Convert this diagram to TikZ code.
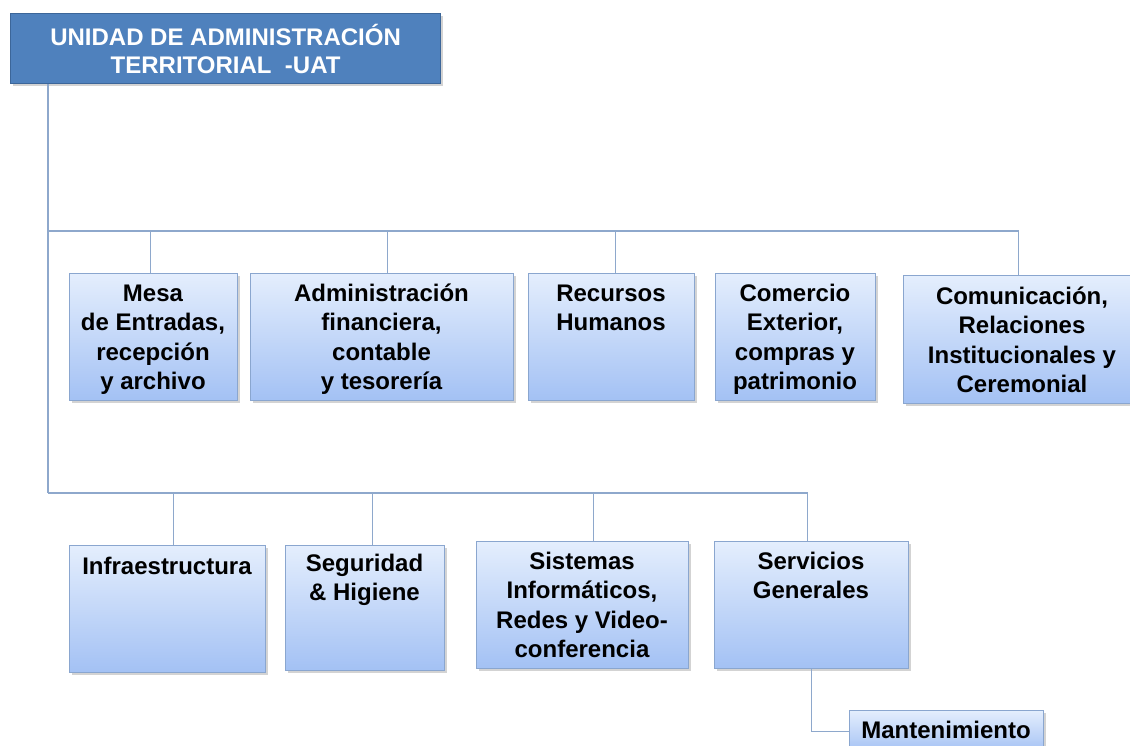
\documentclass[tikz,border=0pt]{standalone}
\usepackage{fontspec}
\setmainfont{Liberation Sans}
\usetikzlibrary{shadows}
\definecolor{linec}{HTML}{8EA8CC}
\definecolor{boxtop}{HTML}{E4EEFD}
\definecolor{boxbot}{HTML}{A3C1F4}
\definecolor{boxdraw}{HTML}{8AA6CF}
\definecolor{titlefill}{HTML}{4F81BD}
\definecolor{titledraw}{HTML}{3C6699}
\begin{document}
\begin{tikzpicture}[x=1pt,y=-1pt,
  orgbox/.style={draw=boxdraw, line width=1.2pt, top color=boxtop, bottom color=boxbot,
    inner sep=0pt, anchor=north west,
    drop shadow={shadow xshift=2pt, shadow yshift=-2pt, opacity=0.35, fill=black!50}},
  orgtext/.style={font=\fontsize{24}{29.5}\selectfont\bfseries, align=center, inner sep=0pt, anchor=base, text=black},
  titlebox/.style={draw=titledraw, line width=1.2pt, fill=titlefill, anchor=north west, inner sep=0pt,
    font=\fontsize{24}{28}\selectfont\bfseries, text=white, align=center,
    drop shadow={shadow xshift=2pt, shadow yshift=-2pt, opacity=0.35, fill=black!50}},
  conn/.style={draw=linec, line width=1.5pt}]
\useasboundingbox (0,0) rectangle (1130,745);

% title
\node[titlebox, minimum width=430, minimum height=70] (uat) at (10,13)
  {UNIDAD DE ADMINISTRACIÓN\\TERRITORIAL\ \ -UAT};

% row 1 boxes (text nodes anchored at the baseline of their last line)
\node[orgbox, minimum width=168, minimum height=127] (mesa) at (69,273) {};
\node[orgtext] (mesa-t) at (153,389.5) {Mesa\\de Entradas,\\recepción\\y archivo};
\node[orgbox, minimum width=263, minimum height=127] (admin) at (250,273) {};
\node[orgtext] (admin-t) at (381.5,389.5) {Administración\\financiera,\\contable\\y tesorería};
\node[orgbox, minimum width=166, minimum height=127] (rrhh) at (528,273) {};
\node[orgtext] (rrhh-t) at (611,330.5) {Recursos\\Humanos};
\node[orgbox, minimum width=160, minimum height=127] (comex) at (715,273) {};
\node[orgtext] (comex-t) at (795,389.5) {Comercio\\Exterior,\\compras y\\patrimonio};
\node[orgbox, minimum width=230, minimum height=128] (comu) at (903,275) {};
\node[orgtext] (comu-t) at (1022,392.5) {Comunicación,\\Relaciones\\Institucionales y\\Ceremonial};

% row 2 boxes
\node[orgbox, minimum width=196, minimum height=127] (infra) at (69,545) {};
\node[orgtext] (infra-t) at (167,574) {Infraestructura};
\node[orgbox, minimum width=159, minimum height=125] (segu) at (285,545) {};
\node[orgtext] (segu-t) at (364.5,600.5) {Seguridad\\\& Higiene};
\node[orgbox, minimum width=212, minimum height=127] (sist) at (476,541) {};
\node[orgtext] (sist-t) at (582,657.5) {Sistemas\\Informáticos,\\Redes y Video-\\conferencia};
\node[orgbox, minimum width=194, minimum height=127] (serv) at (714,541) {};
\node[orgtext] (serv-t) at (811,598.5) {Servicios\\Generales};
\node[orgbox, minimum width=194, minimum height=42] (mant) at (849,710) {};
\node[orgtext] (mant-t) at (946,738) {Mantenimiento};

% connectors
\coordinate (j1) at (48,231);
\coordinate (j2) at (48,493);
\coordinate (servtop) at ([xshift=-4pt]serv.north);
\draw[conn] (uat.south -| j1) -- (j2);
\draw[conn] (j1) -- (j1 -| comu.north) -- (comu.north);
\draw[conn] ([xshift=-3pt]mesa.north) -- ([xshift=-3pt]mesa.north |- j1);
\draw[conn] ([xshift=5.5pt]admin.north) -- ([xshift=5.5pt]admin.north |- j1);
\draw[conn] ([xshift=4pt]rrhh.north) -- ([xshift=4pt]rrhh.north |- j1);

\draw[conn] (j2) -- (j2 -| servtop) -- (servtop);
\draw[conn] ([xshift=6pt]infra.north) -- ([xshift=6pt]infra.north |- j2);
\draw[conn] ([xshift=7.5pt]segu.north) -- ([xshift=7.5pt]segu.north |- j2);
\draw[conn] ([xshift=11pt]sist.north) -- ([xshift=11pt]sist.north |- j2);

\draw[conn] (serv.south) |- (mant.west);
\end{tikzpicture}
\end{document}
